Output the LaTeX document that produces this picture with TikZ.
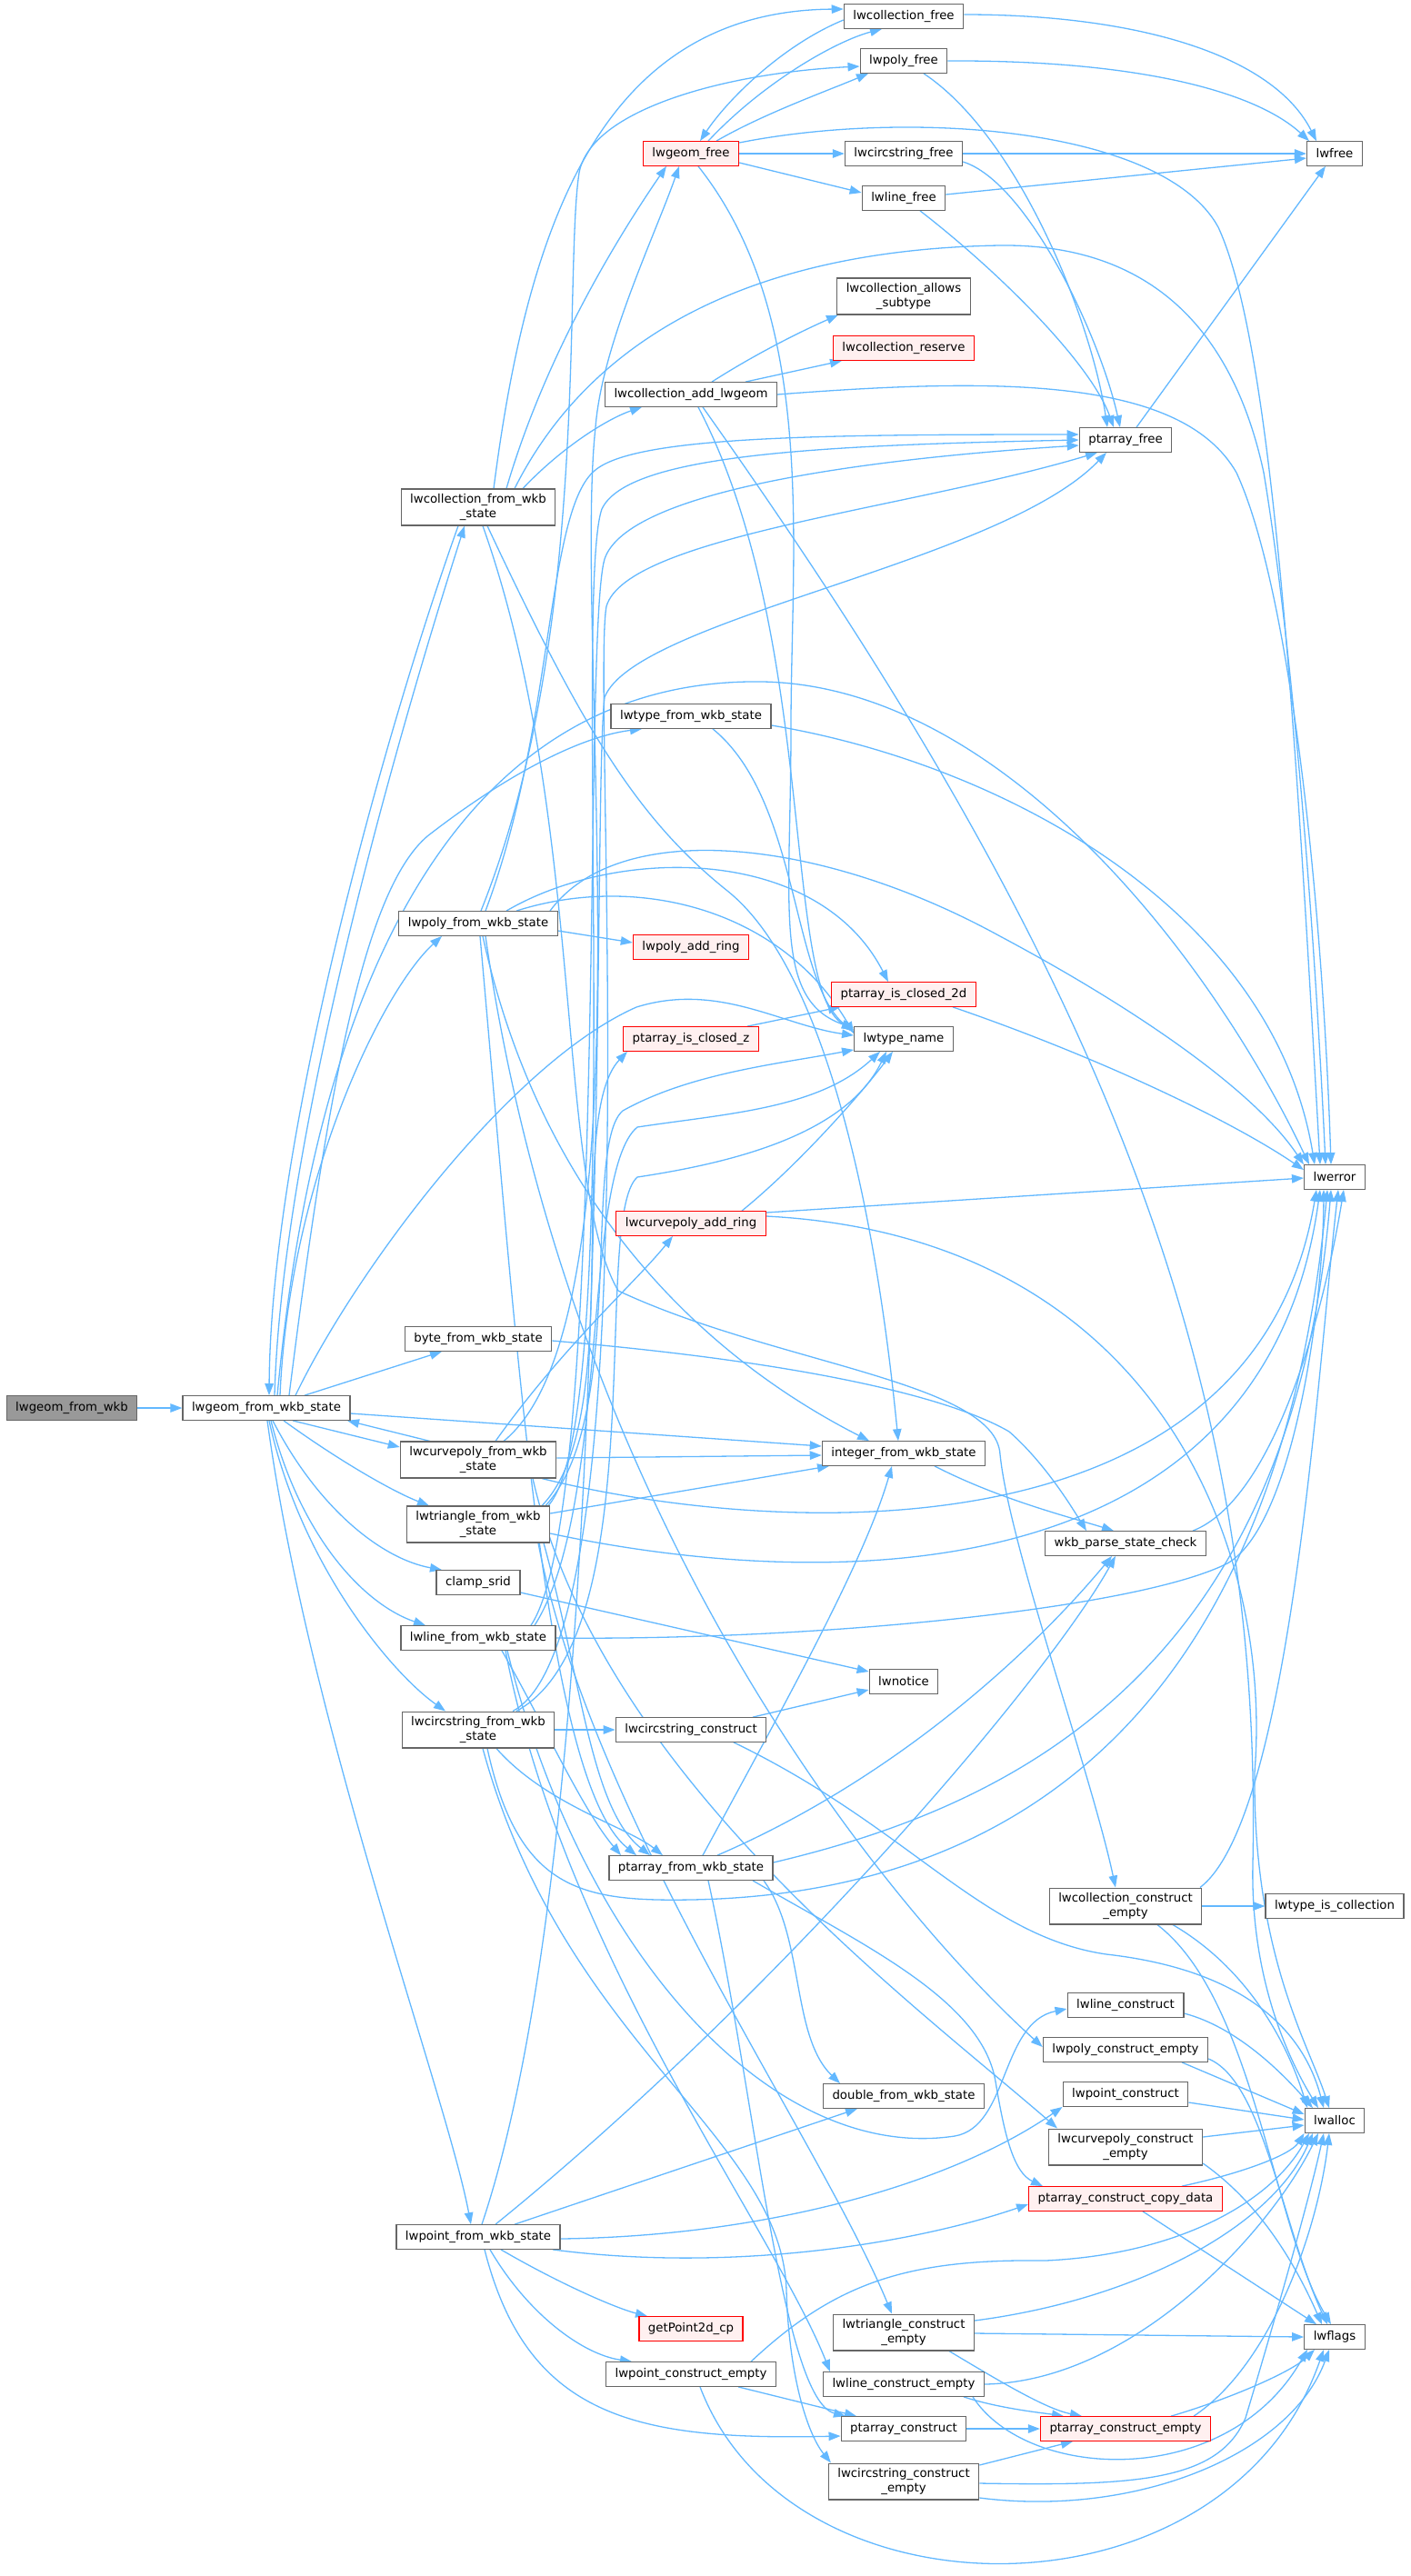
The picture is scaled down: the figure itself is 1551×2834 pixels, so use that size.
\documentclass[tikz,border=0pt]{standalone}
\usepackage{fontspec}
\setmainfont{DejaVu Sans}
\usetikzlibrary{arrows.meta,backgrounds}
\definecolor{eblue}{HTML}{63B8FF}
\definecolor{nborder}{HTML}{666666}
\definecolor{rootfill}{HTML}{999999}
\definecolor{redfill}{HTML}{FFF0F0}
\begin{document}
\begin{tikzpicture}[x=1pt,y=-1pt,
  nbox/.style={draw=nborder,fill=white,line width=1.3pt,rectangle,font=\fontsize{13.3}{15.5}\selectfont,inner xsep=10pt,inner ysep=5.5pt,minimum height=26.5pt,align=center},
  rootbox/.style={nbox,fill=rootfill},
  rbox/.style={nbox,draw=red,fill=redfill},
  edg/.style={draw=eblue,line width=1.3pt,-{Triangle[length=13pt,width=9.5pt]}}]
\useasboundingbox (0,0) rectangle (1551,2834);
% column 0/1
\node[rootbox] (wkb) at (79,1549) {lwgeom\_from\_wkb};
\node[nbox] (LS) at (293,1549) {lwgeom\_from\_wkb\_state};
% column 2
\node[nbox] (coll) at (526,558) {lwcollection\_from\_wkb\\\_state};
\node[nbox] (poly) at (526,1016) {lwpoly\_from\_wkb\_state};
\node[nbox] (byte) at (526,1473) {byte\_from\_wkb\_state};
\node[nbox] (curvep) at (526,1606) {lwcurvepoly\_from\_wkb\\\_state};
\node[nbox] (tri) at (526,1677) {lwtriangle\_from\_wkb\\\_state};
\node[nbox] (clamp) at (526,1741) {clamp\_srid};
\node[nbox] (line) at (526,1802) {lwline\_from\_wkb\_state};
\node[nbox] (circ) at (526,1903) {lwcircstring\_from\_wkb\\\_state};
\node[nbox] (point) at (526,2461) {lwpoint\_from\_wkb\_state};
% column 3
\node[rbox] (gfree) at (760,169) {lwgeom\_free};
\node[nbox] (addg) at (760,434) {lwcollection\_add\_lwgeom};
\node[nbox] (typefrom) at (760,788) {lwtype\_from\_wkb\_state};
\node[rbox] (addring) at (760,1042) {lwpoly\_add\_ring};
\node[rbox] (closedz) at (760,1143) {ptarray\_is\_closed\_z};
\node[rbox] (cpring) at (760,1346) {lwcurvepoly\_add\_ring};
\node[nbox] (circcons) at (760,1903) {lwcircstring\_construct};
\node[nbox] (pafrom) at (760,2055) {ptarray\_from\_wkb\_state};
\node[rbox] (getpt) at (760,2562) {getPoint2d\_cp};
\node[nbox] (ptempty) at (760,2612) {lwpoint\_construct\_empty};
% column 4
\node[nbox] (collfree) at (994,18) {lwcollection\_free};
\node[nbox] (polyfree) at (994,67) {lwpoly\_free};
\node[nbox] (circfree) at (994,169) {lwcircstring\_free};
\node[nbox] (linefree) at (994,218) {lwline\_free};
\node[nbox] (allows) at (994,326) {lwcollection\_allows\\\_subtype};
\node[rbox] (reserve) at (994,383) {lwcollection\_reserve};
\node[rbox] (closed2d) at (994,1094) {ptarray\_is\_closed\_2d};
\node[nbox] (typename) at (994,1143) {lwtype\_name};
\node[nbox] (intfrom) at (994,1599) {integer\_from\_wkb\_state};
\node[nbox] (notice) at (994,1850) {lwnotice};
\node[nbox] (double) at (994,2306) {double\_from\_wkb\_state};
\node[nbox] (triempty) at (994,2566) {lwtriangle\_construct\\\_empty};
\node[nbox] (lineempty) at (994,2623) {lwline\_construct\_empty};
\node[nbox] (pacons) at (994,2672) {ptarray\_construct};
\node[nbox] (circempty) at (994,2730) {lwcircstring\_construct\\\_empty};
% column 5
\node[nbox] (pafree) at (1238,484) {ptarray\_free};
\node[nbox] (check) at (1238,1698) {wkb\_parse\_state\_check};
\node[nbox] (collempty) at (1238,2097) {lwcollection\_construct\\\_empty};
\node[nbox] (linecons) at (1238,2206) {lwline\_construct};
\node[nbox] (polyempty) at (1238,2255) {lwpoly\_construct\_empty};
\node[nbox] (pointcons) at (1238,2304) {lwpoint\_construct};
\node[nbox] (cpempty) at (1238,2362) {lwcurvepoly\_construct\\\_empty};
\node[rbox] (copy) at (1238,2419) {ptarray\_construct\_copy\_data};
\node[rbox] (paempty) at (1238,2672) {ptarray\_construct\_empty};
% column 6
\node[nbox] (lwfree) at (1468,169) {lwfree};
\node[nbox] (lwerror) at (1468,1295) {lwerror};
\node[nbox] (iscoll) at (1468,2097) {lwtype\_is\_collection};
\node[nbox] (lwalloc) at (1468,2333) {lwalloc};
\node[nbox] (lwflags) at (1468,2571) {lwflags};

\begin{scope}[on background layer]
% lwgeom_from_wkb_state
\draw[edg] (wkb) -- (LS);
\draw[edg] ([xshift=9pt]LS.north) .. controls (310,1250) and (440,800) .. ([xshift=-15pt]coll.south);
\draw[edg] ([xshift=-22pt]coll.south) .. controls (425,800) and (298,1250) .. ([xshift=3pt]LS.north);
\draw[edg] ([xshift=15pt]LS.north) .. controls (318,1300) and (420,1090) .. ([xshift=-40pt]poly.south);
\draw[edg] ([xshift=25pt]LS.north) .. controls (360,1200) and (400,980) .. (470,920) .. controls (560,850) and (640,810) .. ([xshift=-54pt]typefrom.south);
\draw[edg] ([xshift=12pt]LS.north) .. controls (350,1050) and (520,745) .. (839,750) .. controls (1100,755) and (1330,1050) .. ([xshift=-28pt]lwerror.north);
\draw[edg] ([xshift=32pt]LS.north) .. controls (390,1400) and (560,1170) .. (700,1108) .. controls (790,1080) and (860,1128) .. ([yshift=-10pt]typename.north west);
\draw[edg] ([xshift=42pt]LS.north) -- ([xshift=-40pt]byte.south);
\draw[edg] ([yshift=-6pt]LS.east) -- ([yshift=8pt]intfrom.west);
\draw[edg] ([xshift=29pt]LS.south) -- ([yshift=14pt]curvep.west);
\draw[edg] ([xshift=-53pt]curvep.north) -- ([xshift=89pt]LS.south);
\draw[edg] ([xshift=19pt]LS.south) .. controls (370,1605) and (430,1640) .. ([xshift=-54pt]tri.north);
\draw[edg] ([xshift=7pt]LS.south) .. controls (350,1660) and (420,1715) .. ([xshift=-40pt]clamp.north);
\draw[edg] ([xshift=5pt]LS.south) .. controls (330,1690) and (400,1765) .. ([xshift=-58pt]line.north);
\draw[edg] ([xshift=3pt]LS.south) .. controls (330,1720) and (430,1840) .. ([xshift=-36pt]circ.north);
\draw[edg] ([xshift=1pt]LS.south) .. controls (340,1900) and (490,2300) .. ([xshift=-8pt]point.north);
% lwcollection_from_wkb_state
\draw[edg] ([xshift=17pt]coll.north) .. controls (580,250) and (660,12) .. ([yshift=8pt]collfree.west);
\draw[edg] ([xshift=31pt]coll.north) .. controls (600,390) and (680,260) .. ([xshift=-27pt]gfree.south);
\draw[edg] ([xshift=40pt]coll.north) .. controls (640,390) and (800,275) .. (1100,270) .. controls (1280,268) and (1360,380) .. (1390,520) .. controls (1420,700) and (1445,1000) .. ([xshift=-10pt]lwerror.north);
\draw[edg] ([xshift=49pt]coll.north) .. controls (620,490) and (670,460) .. ([xshift=-54pt]addg.south);
\draw[edg] ([xshift=10pt]coll.south) .. controls (640,800) and (700,900) .. (800,980) .. controls (900,1060) and (960,1300) .. ([xshift=-6pt]intfrom.north);
\draw[edg] ([xshift=5pt]coll.south) .. controls (645,900) and (610,1300) .. (680,1420) .. controls (850,1500) and (1095,1520) .. (1100,1600) .. controls (1110,1700) and (1200,1950) .. ([xshift=-11pt]collempty.north);
% lwgeom_free and the free functions
\draw[edg] ([yshift=-4pt]collfree.west) .. controls (860,50) and (800,110) .. ([xshift=10pt]gfree.north);
\draw[edg] ([xshift=19pt]gfree.north) .. controls (840,90) and (920,45) .. ([xshift=-24pt]collfree.south);
\draw[edg] ([xshift=28pt]gfree.north) .. controls (840,125) and (910,100) .. ([xshift=-39pt]polyfree.south);
\draw[edg] (gfree.east) -- (circfree.west);
\draw[edg] ([yshift=-10pt]gfree.east) -- ([yshift=6pt]linefree.west);
\draw[edg] ([xshift=8pt]gfree.south) .. controls (900,350) and (870,600) .. (870,800) .. controls (870,1000) and (850,1100) .. ([yshift=-2pt]typename.north west);
\draw[edg] ([yshift=12pt]gfree.east) .. controls (1000,120) and (1280,140) .. (1340,250) .. controls (1400,380) and (1425,800) .. ([xshift=-16pt]lwerror.north);
\draw[edg] ([yshift=2pt]collfree.east) .. controls (1250,16) and (1400,60) .. ([xshift=-20pt]lwfree.north);
\draw[edg] (polyfree.east) .. controls (1250,66) and (1380,100) .. ([xshift=-28pt]lwfree.north);
\draw[edg] ([xshift=22pt]polyfree.south) .. controls (1120,150) and (1200,350) .. ([xshift=-20pt]pafree.north);
\draw[edg] (circfree.east) -- (lwfree.west);
\draw[edg] ([yshift=-9pt]circfree.east) .. controls (1130,200) and (1210,370) .. ([xshift=-6pt]pafree.north);
\draw[edg] ([yshift=4pt]linefree.east) -- ([yshift=-5pt]lwfree.west);
\draw[edg] ([xshift=18pt]linefree.south) .. controls (1100,300) and (1200,400) .. ([xshift=-13pt]pafree.north);
\draw[edg] ([xshift=12pt]pafree.north) -- ([xshift=-10pt]lwfree.south);
% lwcollection_add_lwgeom
\draw[edg] ([xshift=23pt]addg.north) .. controls (830,390) and (880,365) .. ([xshift=-72pt]allows.south);
\draw[edg] ([xshift=60pt]addg.north) -- ([xshift=-68pt]reserve.south);
\draw[edg] (addg.east) .. controls (1100,415) and (1300,415) .. (1360,520) .. controls (1420,650) and (1455,1000) .. ([xshift=-4pt]lwerror.north);
\draw[edg] ([xshift=8pt]addg.south) .. controls (900,700) and (860,1090) .. ([yshift=-4pt]typename.north west);
\draw[edg] ([xshift=13pt]addg.south) .. controls (1200,1050) and (1390,1500) .. (1378,2050) .. controls (1375,2180) and (1420,2270) .. ([xshift=-18pt]lwalloc.north);
% lwtype_from_wkb_state
\draw[edg] ([yshift=-10pt]typefrom.east) .. controls (1100,840) and (1400,1000) .. ([xshift=-22pt]lwerror.north);
\draw[edg] ([xshift=24pt]typefrom.south) .. controls (880,880) and (870,1080) .. ([yshift=-6pt]typename.north west);
% lwpoly_from_wkb_state
\draw[edg] ([yshift=-8pt]poly.east) -- ([yshift=5pt]addring.west);
\draw[edg] ([xshift=3pt]poly.north) .. controls (650,700) and (620,300) .. (637,190) .. controls (650,120) and (800,80) .. ([yshift=-6pt]polyfree.west);
\draw[edg] ([xshift=8pt]poly.north) .. controls (610,800) and (600,560) .. (655,517) .. controls (700,480) and (900,478) .. ([yshift=6pt]pafree.west);
\draw[edg] ([xshift=31pt]poly.north) .. controls (680,930) and (900,930) .. ([xshift=-17pt]closed2d.north);
\draw[edg] ([xshift=42pt]poly.north) .. controls (700,960) and (860,1000) .. ([yshift=-8pt]typename.north west);
\draw[edg] ([xshift=79pt]poly.north) .. controls (680,900) and (900,920) .. (1100,1030) .. controls (1250,1110) and (1380,1200) .. (lwerror.north west);
\draw[edg] ([xshift=5pt]poly.south) .. controls (590,1300) and (750,1480) .. ([xshift=-38pt]intfrom.north);
\draw[edg] ([xshift=2pt]poly.south) .. controls (570,1500) and (600,1960) .. ([xshift=-60pt]pafrom.north);
\draw[edg] ([xshift=8pt]poly.south) .. controls (630,1700) and (1000,2120) .. ([yshift=3pt]polyempty.west);
% lwcurvepoly_from_wkb_state
\draw[edg] ([yshift=2pt]curvep.east) -- ([yshift=-2pt]intfrom.west);
\draw[edg] ([xshift=19pt]curvep.north) .. controls (620,1480) and (700,1410) .. ([xshift=-20pt]cpring.south);
\draw[edg] ([xshift=28pt]curvep.north) .. controls (720,1450) and (630,700) .. (655,470) .. controls (662,380) and (720,260) .. ([xshift=-13pt]gfree.south);
\draw[edg] ([xshift=70pt]curvep.south) .. controls (850,1690) and (1380,1720) .. ([xshift=-20pt]lwerror.south);
\draw[edg] ([xshift=60pt]curvep.south) .. controls (660,1950) and (1000,2200) .. ([xshift=-75pt]cpempty.north);
% lwtriangle_from_wkb_state
\draw[edg] ([yshift=12pt]tri.east) -- ([xshift=-82pt]intfrom.south);
\draw[edg] ([xshift=72pt]tri.south) .. controls (640,1850) and (650,1990) .. ([xshift=-45pt]pafrom.north);
\draw[edg] ([yshift=-10pt]tri.east) .. controls (900,1750) and (1390,1760) .. ([xshift=-16pt]lwerror.south);
\draw[edg] ([xshift=77pt]tri.north) .. controls (690,1560) and (630,650) .. (662,560) .. controls (690,500) and (900,490) .. (pafree.west);
\draw[edg] ([xshift=74pt]tri.north) .. controls (690,1560) and (640,1260) .. (685,1222) .. controls (760,1180) and (860,1170) .. ([yshift=2pt]typename.south west);
\draw[edg] ([xshift=70pt]tri.north) .. controls (690,1560) and (620,1230) .. ([xshift=-70pt]closedz.south);
\draw[edg] ([xshift=66pt]tri.south) .. controls (650,2000) and (900,2350) .. ([xshift=-13pt]triempty.north);
% clamp_srid
\draw[edg] ([yshift=-11pt]clamp.east) -- ([yshift=11pt]notice.west);
% lwline_from_wkb_state
\draw[edg] (line.east) .. controls (900,1805) and (1250,1770) .. (1350,1720) .. controls (1420,1680) and (1455,1450) .. ([xshift=-12pt]lwerror.south);
\draw[edg] ([xshift=26pt]line.south) .. controls (600,1900) and (640,1990) .. ([xshift=-77pt]pafrom.north);
\draw[edg] ([xshift=32pt]line.south) .. controls (640,2150) and (850,2380) .. (1050,2350) .. controls (1110,2340) and (1100,2225) .. ([yshift=-4pt]linecons.west);
\draw[edg] ([xshift=30pt]line.south) .. controls (620,2150) and (850,2450) .. ([xshift=-81pt]lineempty.north);
\draw[edg] ([xshift=58pt]line.north) .. controls (670,1660) and (640,700) .. (665,615) .. controls (690,540) and (950,505) .. ([yshift=-6pt]pafree.west);
\draw[edg] ([xshift=62pt]line.north) .. controls (670,1660) and (640,1290) .. (701,1240) .. controls (800,1225) and (900,1220) .. ([xshift=-26pt]typename.south);
% lwcircstring_from_wkb_state
\draw[edg] (circ.east) -- (circcons.west);
\draw[edg] ([xshift=20pt]circ.south) .. controls (600,1985) and (690,2010) .. ([xshift=-31pt]pafrom.north);
\draw[edg] ([xshift=10pt]circ.south) .. controls (570,2080) and (640,2092) .. (760,2090) .. controls (1050,2085) and (1400,1950) .. ([xshift=-8pt]lwerror.south);
\draw[edg] ([xshift=5pt]circ.south) .. controls (620,2250) and (860,2350) .. (865,2520) .. controls (868,2620) and (890,2680) .. ([xshift=-80pt]circempty.north);
\draw[edg] ([xshift=38pt]circ.north) .. controls (720,1800) and (650,760) .. (667,667) .. controls (690,590) and (1000,560) .. ([xshift=-31pt]pafree.south);
\draw[edg] ([xshift=42pt]circ.north) .. controls (720,1800) and (650,1340) .. (701,1295) .. controls (800,1280) and (930,1250) .. ([xshift=-19pt]typename.south);
% lwcircstring_construct
\draw[edg] ([xshift=68pt]circcons.north) -- ([yshift=-9pt]notice.west);
\draw[edg] ([xshift=47pt]circcons.south) .. controls (1000,2010) and (1080,2130) .. (1217,2150) .. controls (1350,2165) and (1430,2220) .. ([xshift=-12pt]lwalloc.north);
% ptarray_from_wkb_state
\draw[edg] ([xshift=13pt]pafrom.north) .. controls (860,1880) and (950,1720) .. ([xshift=-13pt]intfrom.south);
\draw[edg] ([xshift=29pt]pafrom.north) .. controls (1000,1950) and (1150,1800) .. ([xshift=-15pt]check.south);
\draw[edg] ([yshift=6pt]pafrom.east) .. controls (1100,1990) and (1420,1850) .. ([xshift=-4pt]lwerror.south);
\draw[edg] ([xshift=68pt]pafrom.south) .. controls (950,2140) and (1080,2200) .. (1095,2290) .. controls (1105,2350) and (1115,2390) .. ([xshift=-91pt]copy.north);
\draw[edg] ([xshift=19pt]pafrom.south) .. controls (830,2300) and (860,2640) .. ([xshift=-64pt]pacons.north);
\draw[edg] ([xshift=80pt]pafrom.south) .. controls (885,2130) and (870,2240) .. ([xshift=-70pt]double.north);
% lwpoint_from_wkb_state
\draw[edg] ([xshift=4pt]point.north) .. controls (680,2000) and (650,900) .. (665,767) .. controls (700,680) and (1100,620) .. ([xshift=-21pt]pafree.south);
\draw[edg] ([xshift=19pt]point.north) .. controls (850,2200) and (1150,1850) .. ([xshift=-11pt]check.south);
\draw[edg] ([xshift=40pt]point.north) -- ([xshift=-51pt]double.south);
\draw[edg] ([yshift=-2pt]point.east) .. controls (850,2460) and (1050,2400) .. (pointcons.south west);
\draw[edg] ([xshift=82pt]point.south) .. controls (800,2500) and (1000,2470) .. ([yshift=-6pt]copy.west);
\draw[edg] ([xshift=25pt]point.south) .. controls (620,2515) and (680,2540) .. ([xshift=-48pt]getpt.north);
\draw[edg] ([xshift=13pt]point.south) .. controls (580,2545) and (640,2590) .. ([xshift=-65pt]ptempty.north);
\draw[edg] ([xshift=7pt]point.south) .. controls (580,2660) and (700,2685) .. ([yshift=-8pt]pacons.west);
% lwpoint_construct_empty
\draw[edg] ([xshift=52pt]ptempty.south) -- ([xshift=-52pt]pacons.north);
\draw[edg] ([xshift=66pt]ptempty.north) .. controls (920,2510) and (1000,2485) .. (1150,2487) .. controls (1300,2480) and (1400,2420) .. ([xshift=-28pt]lwalloc.south);
\draw[edg] ([xshift=10pt]ptempty.south) .. controls (870,2890) and (1350,2890) .. ([xshift=-12pt]lwflags.south);
% constructors
\draw[edg] ([yshift=13pt]triempty.east) .. controls (1250,2530) and (1400,2450) .. ([xshift=-24pt]lwalloc.south);
\draw[edg] ([yshift=-1pt]triempty.east) -- (lwflags.west);
\draw[edg] ([xshift=50pt]triempty.south) .. controls (1100,2620) and (1150,2650) .. ([xshift=-48pt]paempty.north);
\draw[edg] (lineempty.east) .. controls (1250,2620) and (1400,2450) .. ([xshift=-18pt]lwalloc.south);
\draw[edg] ([xshift=66pt]lineempty.south) .. controls (1100,2650) and (1150,2655) .. ([xshift=-68pt]paempty.north);
\draw[edg] ([xshift=76pt]lineempty.south) .. controls (1130,2730) and (1350,2740) .. ([xshift=-30pt]lwflags.south);
\draw[edg] (pacons.east) -- (paempty.west);
\draw[edg] ([yshift=18pt]circempty.east) -- ([xshift=-58pt]paempty.south);
\draw[edg] ([yshift=-2pt]circempty.east) .. controls (1250,2735) and (1340,2730) .. (1370,2660) .. controls (1400,2560) and (1440,2420) .. ([xshift=-12pt]lwalloc.south);
\draw[edg] ([yshift=-18pt]circempty.east) .. controls (1250,2770) and (1420,2700) .. ([xshift=-6pt]lwflags.south);
\draw[edg] ([xshift=75pt]paempty.north) .. controls (1400,2600) and (1450,2450) .. ([xshift=-6pt]lwalloc.south);
\draw[edg] ([xshift=50pt]paempty.north) .. controls (1350,2640) and (1420,2610) .. ([xshift=-22pt]lwflags.south);
\draw[edg] ([xshift=62pt]copy.north) .. controls (1370,2390) and (1420,2370) .. (lwalloc.south west);
\draw[edg] ([xshift=19pt]copy.south) -- ([xshift=-20pt]lwflags.north);
\draw[edg] ([yshift=11pt]cpempty.east) -- ([yshift=-5pt]lwalloc.west);
\draw[edg] ([yshift=-18pt]cpempty.east) .. controls (1380,2420) and (1420,2480) .. ([xshift=-14pt]lwflags.north);
\draw[edg] ([yshift=-9pt]pointcons.east) -- ([yshift=1pt]lwalloc.west);
\draw[edg] ([xshift=62pt]polyempty.south) -- ([yshift=7pt]lwalloc.west);
\draw[edg] ([yshift=-10pt]polyempty.east) .. controls (1390,2290) and (1410,2450) .. ([xshift=-8pt]lwflags.north);
\draw[edg] ([yshift=-9pt]linecons.east) .. controls (1360,2230) and (1410,2280) .. ([xshift=-24pt]lwalloc.north);
\draw[edg] (collempty.east) -- (iscoll.west);
\draw[edg] ([xshift=82pt]collempty.north) .. controls (1420,2000) and (1450,1500) .. ([xshift=4pt]lwerror.south);
\draw[edg] ([xshift=52pt]collempty.south) .. controls (1380,2170) and (1420,2260) .. ([xshift=-30pt]lwalloc.north);
\draw[edg] ([xshift=35pt]collempty.south) .. controls (1380,2200) and (1400,2450) .. ([xshift=-4pt]lwflags.north);
% lwcurvepoly_add_ring
\draw[edg] ([xshift=56pt]cpring.north) .. controls (880,1280) and (950,1200) .. ([xshift=-12pt]typename.south);
\draw[edg] ([yshift=12pt]cpring.east) -- ([yshift=-1pt]lwerror.west);
\draw[edg] ([yshift=8pt]cpring.east) .. controls (1270,1360) and (1400,1700) .. (1380,1950) .. controls (1378,2150) and (1440,2250) .. ([xshift=-6pt]lwalloc.north);
% closed tests
\draw[edg] ([xshift=62pt]closedz.north) -- ([xshift=-70pt]closed2d.south);
\draw[edg] ([xshift=54pt]closed2d.south) .. controls (1200,1160) and (1350,1230) .. ([yshift=8pt]lwerror.west);
% wkb parse state
\draw[edg] ([yshift=-2pt]byte.east) .. controls (900,1500) and (1050,1540) .. (1110,1575) .. controls (1150,1610) and (1180,1660) .. ([xshift=-43pt]check.north);
\draw[edg] ([xshift=34pt]intfrom.south) .. controls (1100,1650) and (1180,1670) .. ([xshift=-13pt]check.north);
\draw[edg] ([xshift=74pt]check.north) .. controls (1400,1650) and (1455,1450) .. ([xshift=10pt]lwerror.south);
\end{scope}
\end{tikzpicture}
\end{document}
